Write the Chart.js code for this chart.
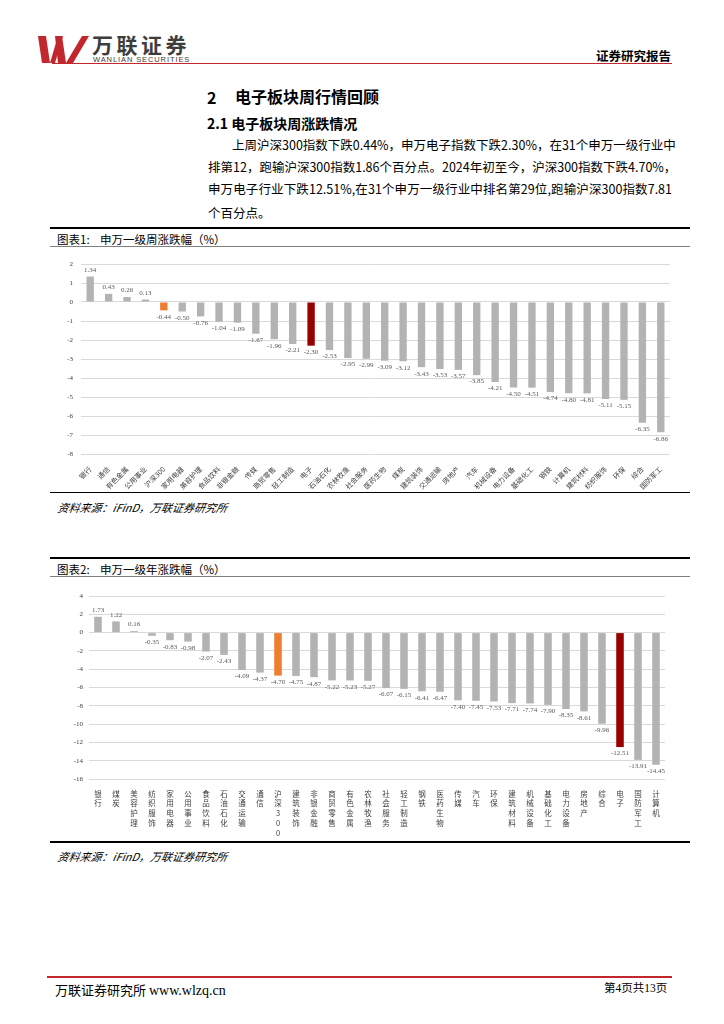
<!DOCTYPE html>
<html><head><meta charset="utf-8">
<script src="https://cdn.jsdelivr.net/npm/chart.js@4.4.1/dist/chart.umd.min.js"></script>
<style>
body{margin:0;width:724px;height:1024px;position:relative;background:#fff;font-family:"Noto Sans CJK SC",sans-serif;color:#000;overflow:hidden}
.a{position:absolute;white-space:nowrap}
.ln{position:absolute}
.p{position:absolute;font-size:12.5px;line-height:14px;text-align:justify;text-align-last:justify;white-space:nowrap}
canvas{position:absolute}
</style></head><body>
<svg class="a" style="left:36px;top:34px" width="60" height="32" viewBox="0 0 60 32">
<polygon points="2,2 10,2 14,29 6,29" fill="#c1272d"/>
<polygon points="14,29 22,2 27,2 19,29" fill="#c1272d"/>
<polygon points="19,2 26,2 30,29 22,29" fill="#c1272d"/>
<polygon points="30,29 46,2 53,2 37,29" fill="#c1272d"/>
</svg>
<div class="a" style="left:92px;top:31px;font-size:21px;line-height:26px;font-weight:700;color:#3d3d3d;letter-spacing:3.5px">万联证券</div>
<div class="a" style="left:93px;top:55px;font-size:7.5px;line-height:9px;color:#3d3d3d;letter-spacing:0.9px;font-family:'Liberation Sans'">WANLIAN SECURITIES</div>
<div class="ln" style="left:52px;top:63px;width:620px;height:1px;background:#c1272d"></div>
<div class="a" style="left:596px;top:46px;font-size:12.5px;font-weight:700">证券研究报告</div>

<div class="a" style="left:207px;top:85px;font-size:16px;font-weight:700">2</div>
<div class="a" style="left:235px;top:84px;font-size:16px;font-weight:700">电子板块周行情回顾</div>
<div class="a" style="left:207px;top:113px;font-size:14px;font-weight:700">2.1 电子板块周涨跌情况</div>

<div class="p" style="left:232px;top:138px;width:440px">上周沪深300指数下跌0.44%，申万电子指数下跌2.30%，在31个申万一级行业中</div>
<div class="p" style="left:208px;top:160px;width:464px">排第12，跑输沪深300指数1.86个百分点。2024年初至今，沪深300指数下跌4.70%，</div>
<div class="p" style="left:208px;top:182px;width:464px">申万电子行业下跌12.51%,在31个申万一级行业中排名第29位,跑输沪深300指数7.81</div>
<div class="a" style="left:208px;top:203px;font-size:12.5px">个百分点。</div>

<div class="ln" style="left:50px;top:227px;width:640px;height:2px;background:#000"></div>
<div class="a" style="left:57px;top:231px;font-size:11.5px">图表1:&nbsp;&nbsp;&nbsp;&nbsp;申万一级周涨跌幅（%）</div>
<div class="ln" style="left:50px;top:246px;width:640px;height:1px;background:#7f7f7f"></div>
<canvas id="c1" width="640" height="245" style="left:50px;top:248px"></canvas>
<div class="ln" style="left:50px;top:492px;width:640px;height:1px;background:#000"></div>
<div class="a" style="left:58px;top:499px;font-size:11px;font-style:italic;transform:skewX(-10deg)">资料来源：iFinD，万联证券研究所</div>

<div class="ln" style="left:50px;top:557px;width:640px;height:2px;background:#000"></div>
<div class="a" style="left:57px;top:561px;font-size:11.5px">图表2:&nbsp;&nbsp;&nbsp;&nbsp;申万一级年涨跌幅（%）</div>
<div class="ln" style="left:50px;top:576px;width:640px;height:1px;background:#7f7f7f"></div>
<canvas id="c2" width="640" height="258" style="left:50px;top:583px"></canvas>
<div class="ln" style="left:50px;top:841px;width:640px;height:2px;background:#000"></div>
<div class="a" style="left:58px;top:848px;font-size:11px;font-style:italic;transform:skewX(-10deg)">资料来源：iFinD，万联证券研究所</div>

<div class="ln" style="left:47px;top:976px;width:625px;height:2px;background:#c1272d"></div>
<div class="a" style="left:55px;top:980px;font-size:13px">万联证券研究所 <span style="font-family:'Liberation Serif';font-size:14px">www.wlzq.cn</span></div>
<div class="a" style="left:604px;top:979px;font-size:11.5px">第<span style="font-family:'Liberation Serif'">4</span>页共<span style="font-family:'Liberation Serif'">13</span>页</div>

<script>
const categories1 = ["银行","通信","有色金属","公用事业","沪深300","家用电器","美容护理","食品饮料","非银金融","传媒","商贸零售","轻工制造","电子","石油石化","农林牧渔","社会服务","医药生物","煤炭","建筑装饰","交通运输","房地产","汽车","机械设备","电力设备","基础化工","钢铁","计算机","建筑材料","纺织服饰","环保","综合","国防军工"];
const values1 = [1.34,0.43,0.26,0.13,-0.44,-0.50,-0.76,-1.04,-1.09,-1.67,-1.96,-2.21,-2.30,-2.53,-2.95,-2.99,-3.09,-3.12,-3.43,-3.53,-3.57,-3.85,-4.21,-4.50,-4.51,-4.74,-4.80,-4.81,-5.11,-5.15,-6.35,-6.86];
const yTicks1 = {min:-8,max:2,step:1};

const categories2 = ["银行","煤炭","美容护理","纺织服饰","家用电器","公用事业","食品饮料","石油石化","交通运输","通信","沪深300","建筑装饰","非银金融","商贸零售","有色金属","农林牧渔","社会服务","轻工制造","钢铁","医药生物","传媒","汽车","环保","建筑材料","机械设备","基础化工","电力设备","房地产","综合","电子","国防军工","计算机"];
const values2 = [1.73,1.22,0.16,-0.35,-0.83,-0.98,-2.07,-2.43,-4.09,-4.37,-4.70,-4.75,-4.87,-5.22,-5.23,-5.27,-6.07,-6.15,-6.41,-6.47,-7.40,-7.45,-7.53,-7.71,-7.74,-7.90,-8.35,-8.61,-9.96,-12.51,-13.91,-14.45];
const yTicks2 = {min:-16,max:4,step:2};

const benchmarkName = "沪深300";
const focusName = "电子";
const GRAY = "#b3b3b3", ORANGE = "#ed7d31", RED = "#990000";

const valueLabels = {
  id:'valueLabels',
  afterDatasetsDraw(chart){
    const ctx = chart.ctx, meta = chart.getDatasetMeta(0), data = chart.data.datasets[0].data;
    ctx.save();
    ctx.font = '7px "Liberation Serif"';
    ctx.fillStyle = '#595959';
    ctx.textAlign = 'center';
    meta.data.forEach((bar,i)=>{
      const v = data[i], t = v.toFixed(2);
      if (v >= 0){ ctx.textBaseline='bottom'; ctx.fillText(t, bar.x, bar.y-3); }
      else { ctx.textBaseline='top'; ctx.fillText(t, bar.x, bar.y+3); }
    });
    ctx.restore();
  }
};

function build(id, labels, values, yt, cfg){
  const colors = labels.map(l => l===benchmarkName ? ORANGE : (l===focusName ? RED : GRAY));
  return new Chart(document.getElementById(id), {
    type:'bar',
    data:{ labels: cfg.tickLabels, datasets:[{ data: values, backgroundColor: colors, barPercentage: cfg.bar, categoryPercentage: 1 }]},
    options:{
      responsive:false, animation:false,
      layout:{ padding:{ top: cfg.padTop, right: cfg.padRight, left:0, bottom:0 } },
      plugins:{ legend:{display:false}, tooltip:{enabled:false} },
      scales:{
        x:{
          grid:{display:false}, border:{display:false},
          ticks:{ autoSkip:false, maxRotation:cfg.rot, minRotation:cfg.rot, padding:cfg.xPad,
                  font:{size:cfg.xFont, family:'"Noto Sans CJK SC"', lineHeight:cfg.lh}, color:'#404040' },
          afterFit(s){ s.height = cfg.xH; }
        },
        y:{
          min:yt.min, max:yt.max,
          grid:{color:'#d9d9d9', drawTicks:false, lineWidth:1}, border:{display:false},
          ticks:{ stepSize:yt.step, padding:cfg.yPad, font:{size:7, family:'"Liberation Serif"'}, color:'#404040' },
          afterFit(s){ s.width = cfg.yW; }
        }
      }
    },
    plugins:[valueLabels]
  });
}

build('c1', categories1, values1, yTicks1, {
  tickLabels: categories1, bar:0.4, padTop:16, padRight:20, rot:45, xPad:3, xFont:7, lh:1.2,
  xH: 245-206, yW:31, yPad:8
});
build('c2', categories2, values2, yTicks2, {
  tickLabels: categories2.map(s => s==="沪深300" ? ["沪","深","3","0","0"] : s.split("")),
  bar:0.42, padTop:13, padRight:25, rot:0, xPad:2, xFont:7.5, lh:1.3,
  xH: 258-196, yW:39, yPad:6
});
</script>
</body></html>
